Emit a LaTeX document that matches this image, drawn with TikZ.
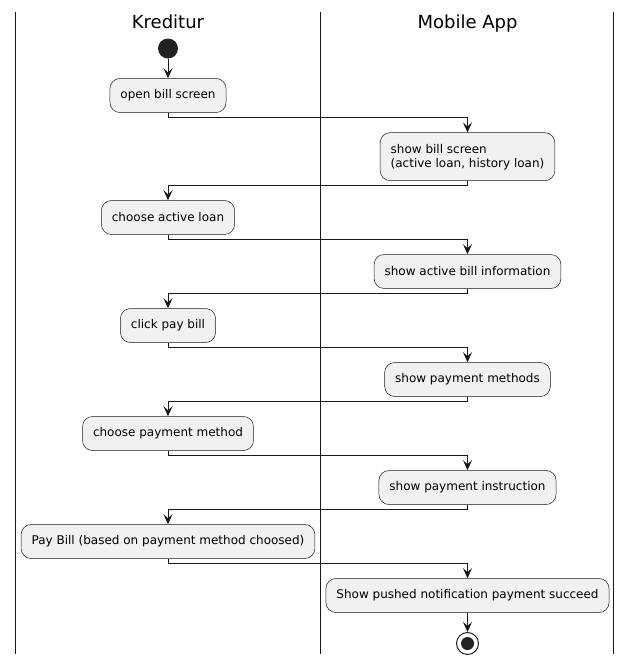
\documentclass[tikz,border=0pt]{standalone}
\usepackage{fontspec}
\setmainfont{DejaVu Sans}
\usetikzlibrary{arrows.meta}
\definecolor{ink}{HTML}{181818}
\definecolor{boxfill}{HTML}{F1F1F1}
\definecolor{dot}{HTML}{222222}
\tikzset{
  act/.style={draw=ink, line width=0.5pt, fill=boxfill, rounded corners=10pt,
    inner xsep=10.5pt, inner ysep=3pt, minimum height=34pt, align=left,
    font=\fontsize{12}{14}\selectfont},
  conn/.style={draw=ink, line width=1pt, -{Stealth[length=10pt, width=9pt, inset=4pt]}},
  lane/.style={draw=ink, line width=1.3pt},
  head/.style={anchor=base, font=\fontsize{18}{20}\selectfont, inner sep=0pt}
}
\begin{document}
\begin{tikzpicture}[x=1pt, y=-1pt]
\useasboundingbox (0,0) rectangle (632,665);
% swimlane borders
\coordinate (l1t) at (15.5,12); \coordinate (l1b) at (15.5,654);
\coordinate (l2t) at (320.5,12); \coordinate (l2b) at (320.5,654);
\coordinate (l3t) at (613.5,12); \coordinate (l3b) at (613.5,654);
\draw[lane] (l1t) -- (l1b);
\draw[lane] (l2t) -- (l2b);
\draw[lane] (l3t) -- (l3b);
\node[head] (h1) at (168,28.3) {Kreditur};
\node[head] (h2) at (467.5,28.3) {Mobile App};
% start
\node[circle, fill=dot, minimum size=20pt, inner sep=0pt] (start) at (168,48.5) {};
% activities
\node[act] (a1) at (168,95.5) {open bill screen};
\node[act, minimum height=48pt, inner ysep=0pt] (a2) at (467.5,156.7) {show bill screen\\(active loan, history loan)};
\node[act] (a3) at (168,217.5) {choose active loan};
\node[act] (a4) at (467.5,271.5) {show active bill information};
\node[act] (a5) at (168,325.5) {click pay bill};
\node[act] (a6) at (467.5,379.5) {show payment methods};
\node[act] (a7) at (168,433.5) {choose payment method};
\node[act] (a8) at (467.5,487.5) {show payment instruction};
\node[act] (a9) at (168,541.5) {Pay Bill (based on payment method choosed)};
\node[act] (a10) at (467.5,595.5) {Show pushed notification payment succeed};
% end
\node[circle, draw=dot, line width=1pt, fill=white, minimum size=22pt, inner sep=0pt] (stop) at (467.5,643.5) {};
\node[circle, fill=dot, minimum size=13pt, inner sep=0pt] (stopin) at (stop.center) {};
% connectors
\draw[conn] (start) -- (a1);
\draw[conn] (a1.south) -- ++(0,4.5) -| (a2.north);
\draw[conn] (a2.south) -- ++(0,4.5) -| (a3.north);
\draw[conn] (a3.south) -- ++(0,4.5) -| (a4.north);
\draw[conn] (a4.south) -- ++(0,4.5) -| (a5.north);
\draw[conn] (a5.south) -- ++(0,4.5) -| (a6.north);
\draw[conn] (a6.south) -- ++(0,4.5) -| (a7.north);
\draw[conn] (a7.south) -- ++(0,4.5) -| (a8.north);
\draw[conn] (a8.south) -- ++(0,4.5) -| (a9.north);
\draw[conn] (a9.south) -- ++(0,4.5) -| (a10.north);
\draw[conn] (a10) -- (stop);
\end{tikzpicture}
\end{document}
